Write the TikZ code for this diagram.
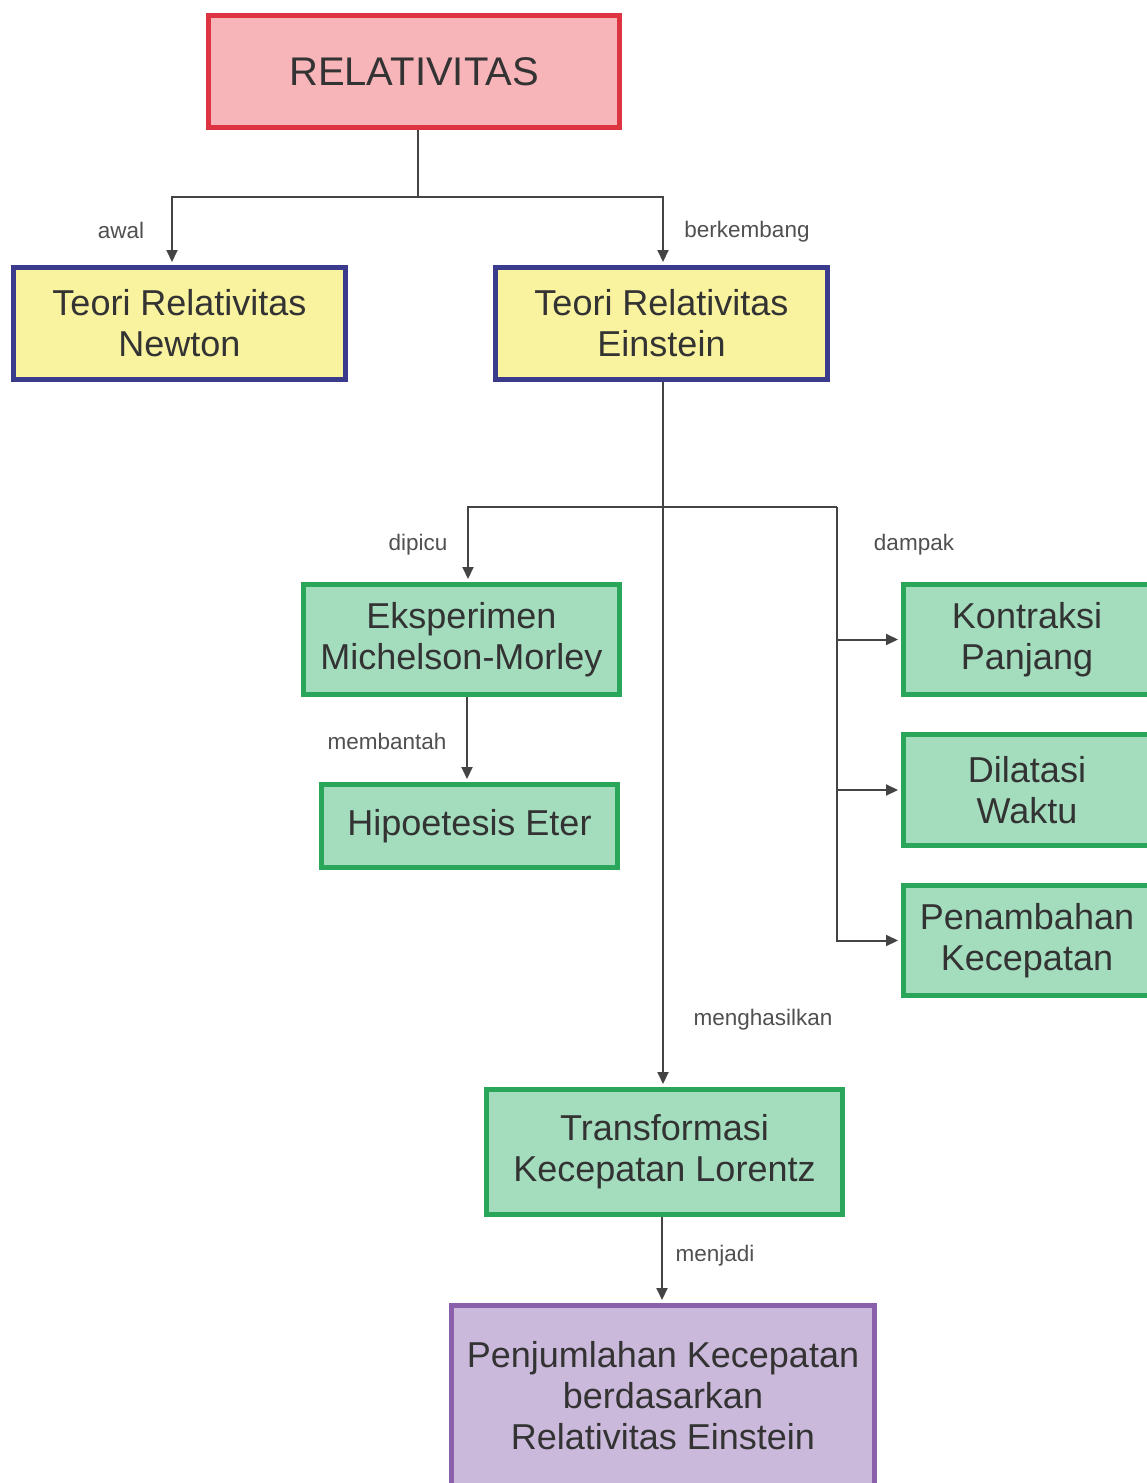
\documentclass[tikz,border=0pt]{standalone}
\usepackage{fontspec}
\setmainfont{Liberation Sans}
\usetikzlibrary{arrows.meta}
\definecolor{relfill}{HTML}{F7B4B9}
\definecolor{reldraw}{HTML}{DE3341}
\definecolor{yelfill}{HTML}{F9F29E}
\definecolor{yeldraw}{HTML}{3B3B8E}
\definecolor{grnfill}{HTML}{A3DDBE}
\definecolor{grndraw}{HTML}{2AA65A}
\definecolor{purfill}{HTML}{CBB9DB}
\definecolor{purdraw}{HTML}{8B60AB}
\definecolor{linec}{HTML}{444444}
\definecolor{textc}{HTML}{333333}
\definecolor{labc}{HTML}{505050}
\tikzset{
  box/.style={rectangle, line width=5pt, inner sep=0pt, align=center, text=textc,
    font=\fontsize{36}{41}\selectfont},
  relbox/.style={box, fill=relfill, draw=reldraw, font=\fontsize{40}{46}\selectfont},
  yelbox/.style={box, fill=yelfill, draw=yeldraw},
  grnbox/.style={box, fill=grnfill, draw=grndraw},
  purbox/.style={box, fill=purfill, draw=purdraw},
  conn/.style={draw=linec, line width=2pt},
  arr/.style={conn, -{Triangle[length=12pt,width=11pt]}, shorten >=3pt},
  lab/.style={text=labc, font=\fontsize{22.5}{26}\selectfont, inner sep=0pt}
}
\begin{document}
\begin{tikzpicture}[x=1pt,y=-1pt]
\useasboundingbox (0,0) rectangle (1147,1483);
\clip (0,0) rectangle (1147,1483);
\fill[white] (0,0) rectangle (1147,1483);

% nodes
\node[relbox, minimum width=411pt, minimum height=112pt] (rel) at (414,71.5) {RELATIVITAS};
\node[yelbox, minimum width=332pt, minimum height=112pt] (newton) at (179.5,323.5) {Teori Relativitas\\Newton};
\node[yelbox, minimum width=332pt, minimum height=112pt] (ein) at (661.5,323.5) {Teori Relativitas\\Einstein};
\node[grnbox, minimum width=316pt, minimum height=110pt] (mm) at (461.5,639.5) {Eksperimen\\Michelson-Morley};
\node[grnbox, minimum width=296pt, minimum height=83pt] (hip) at (469.5,826) {Hipoetesis Eter};
\node[grnbox, minimum width=247pt, minimum height=110pt] (kon) at (1027,639.5) {Kontraksi\\Panjang};
\node[grnbox, minimum width=247pt, minimum height=111pt] (dil) at (1027,790) {Dilatasi\\Waktu};
\node[grnbox, minimum width=247pt, minimum height=110pt] (pen) at (1027,940.5) {Penambahan\\Kecepatan};
\node[grnbox, minimum width=356pt, minimum height=125pt] (trans) at (664.5,1152) {Transformasi\\Kecepatan Lorentz};
\node[purbox, minimum width=423pt, minimum height=180pt] (penj) at (663,1395.5) {Penjumlahan Kecepatan\\berdasarkan\\Relativitas Einstein};

% junction coordinates
\coordinate (j1) at (418,197);
\coordinate (b) at (663,507);
\coordinate (r1) at (837,507);

% connectors
\draw[conn] (j1 |- rel.south) -- (j1);
\draw[arr] (j1) -| ([xshift=-7.5pt]newton.north);
\draw[arr] (j1) -| ([xshift=1.5pt]ein.north);
\draw[arr] ([xshift=1.5pt]ein.south) -- ([xshift=-1.5pt]trans.north);
\draw[arr] (b) -| ([xshift=6.5pt]mm.north);
\draw[conn] (b) -- (r1);
\draw[arr] (r1 |- kon.west) -- (kon.west);
\draw[arr] (r1 |- dil.west) -- (dil.west);
\draw[arr] (r1) |- (pen.west);
\draw[arr] ([xshift=5.5pt]mm.south) -- ([xshift=-2.5pt]hip.north);
\draw[arr] ([xshift=-2.5pt]trans.south) -- ([xshift=-1pt]penj.north);

% labels
\node[lab] (lawal) at (121,230) {awal};
\node[lab] (lberk) at (747,232) {berkembang};
\node[lab] (ldip) at (418,545) {dipicu};
\node[lab] (lmemb) at (387,741) {membantah};
\node[lab] (ldamp) at (914,545) {dampak};
\node[lab] (lmeng) at (763,1020) {menghasilkan};
\node[lab] (lmenj) at (715,1256) {menjadi};
\end{tikzpicture}
\end{document}
